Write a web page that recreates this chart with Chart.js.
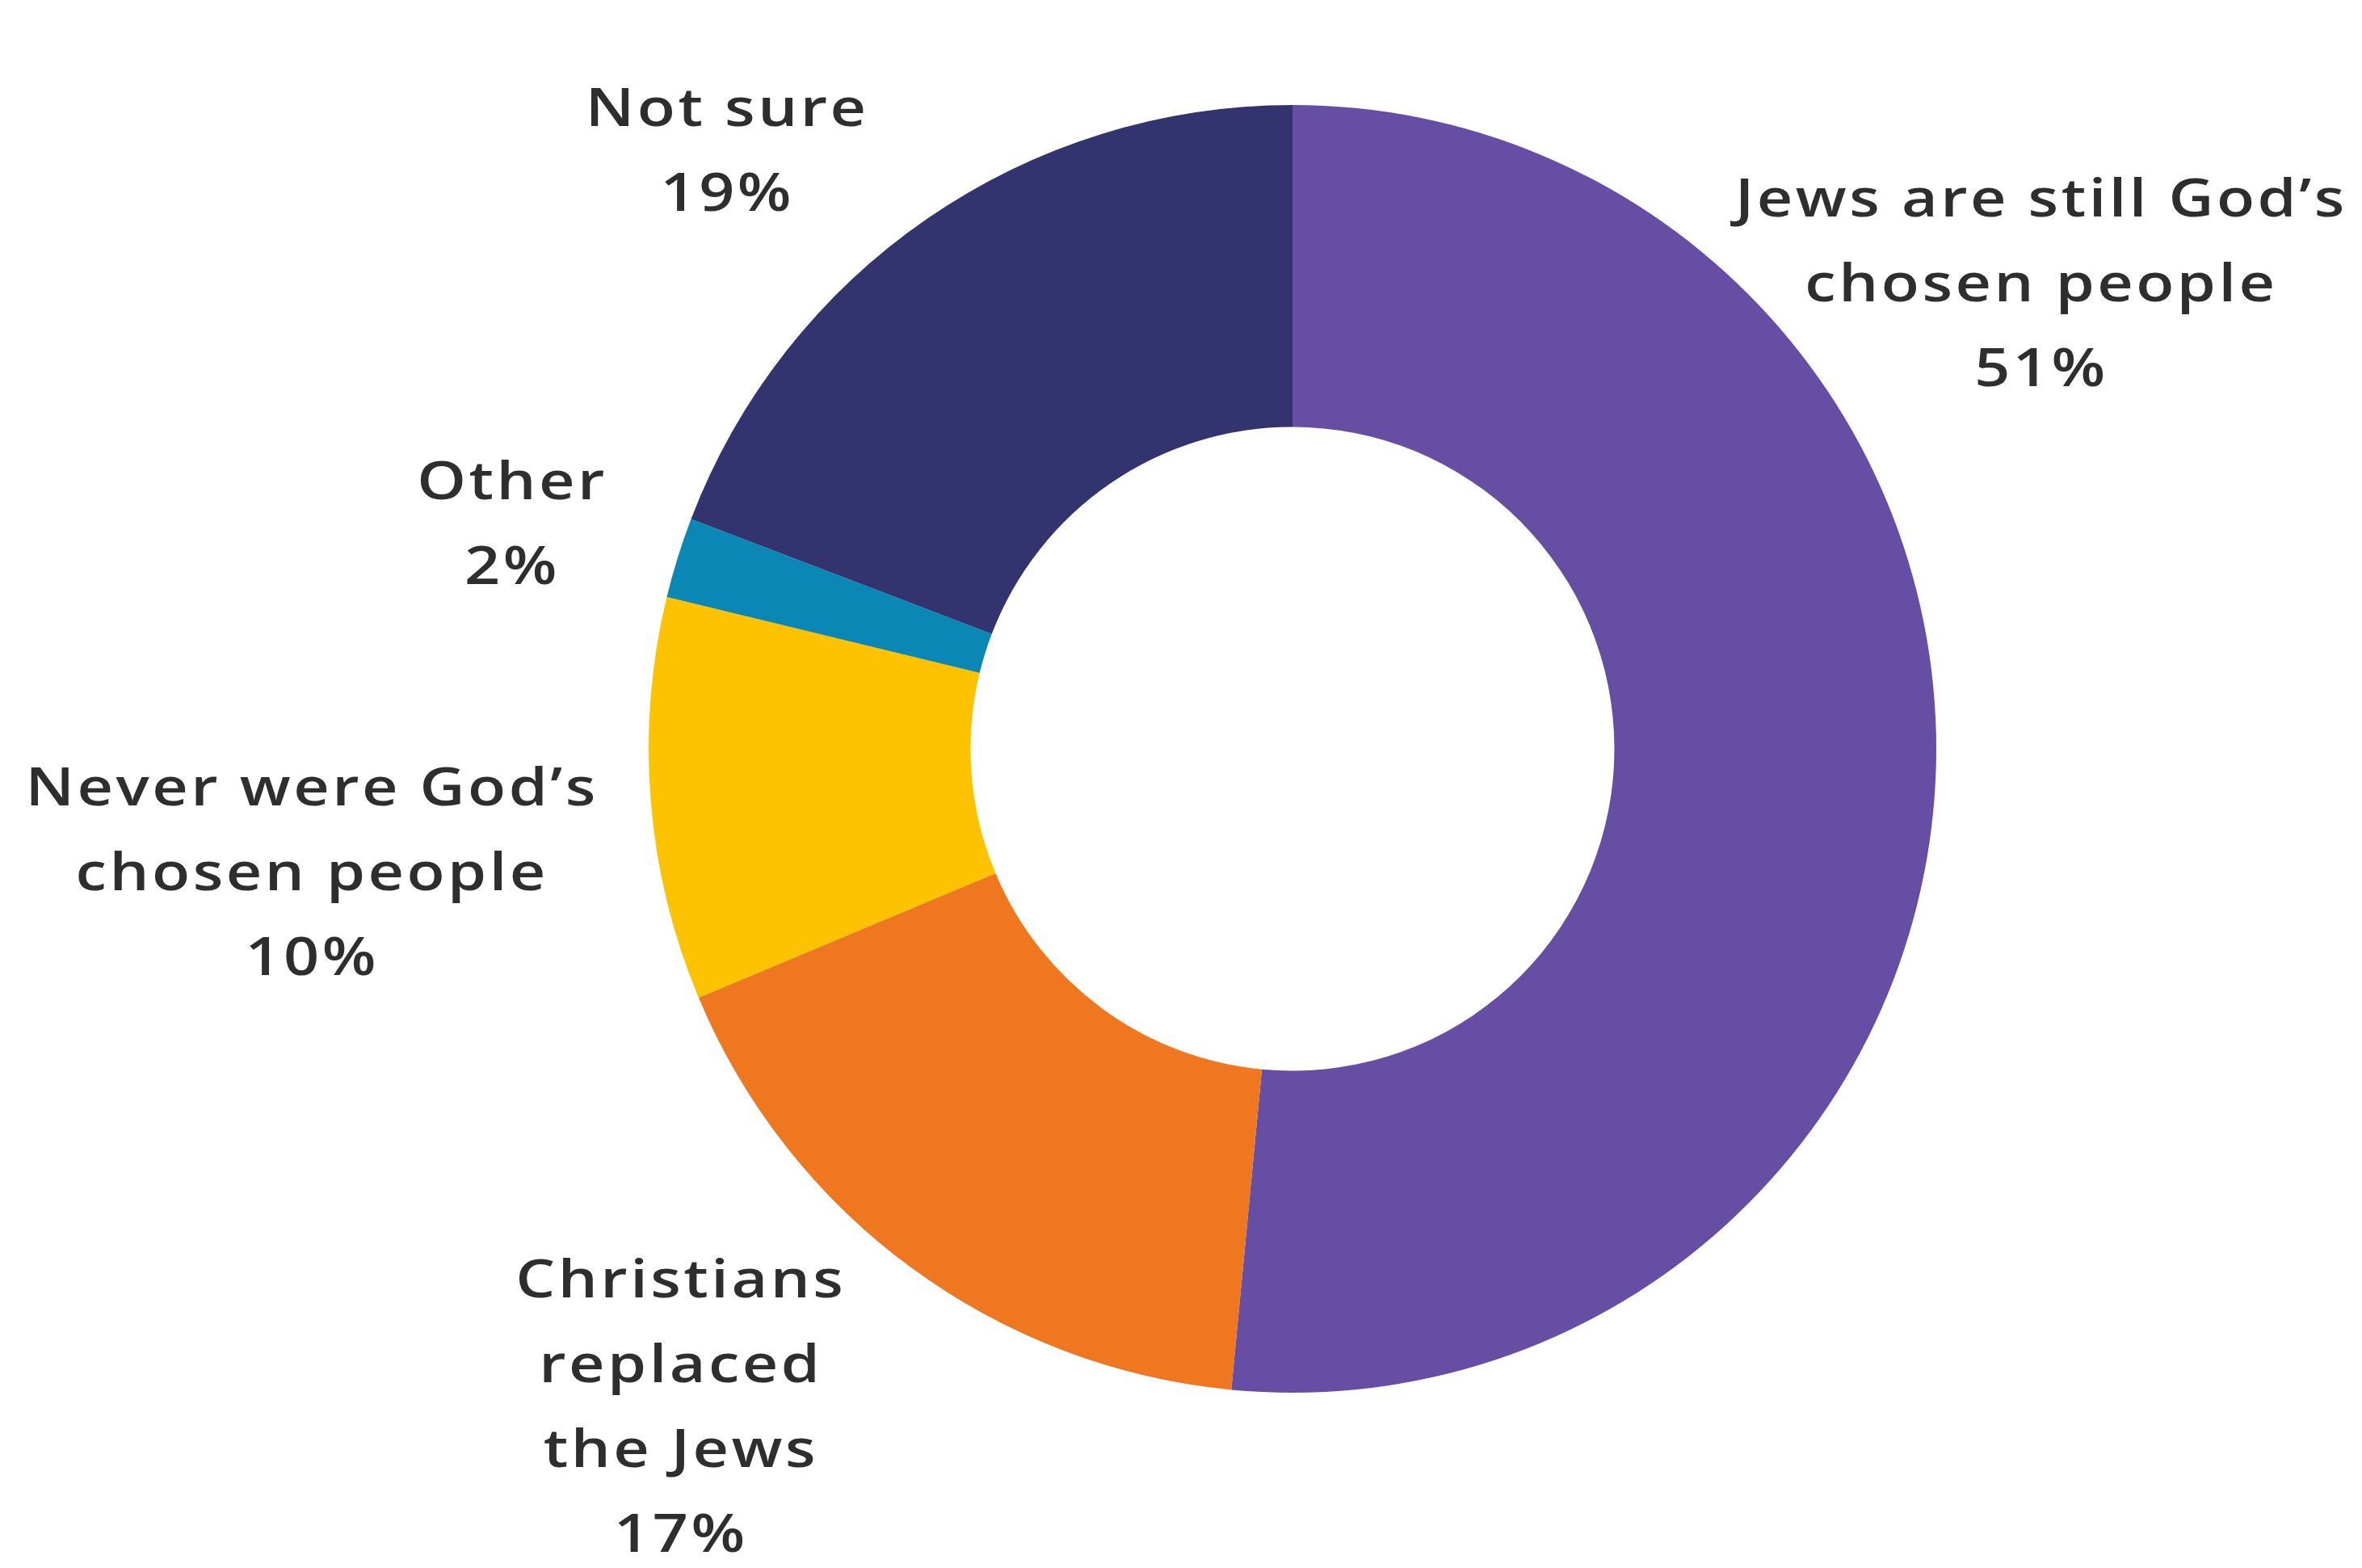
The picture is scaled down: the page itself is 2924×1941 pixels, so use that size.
<!DOCTYPE html>
<html>
<head>
<meta charset="utf-8">
<title>Are Jews still God's chosen people?</title>
<script src="https://cdn.jsdelivr.net/npm/chart.js@4/dist/chart.umd.min.js"></script>
<style>
    html, body { margin: 0; padding: 0; background: #ffffff; }
    #wrap { width: 2924px; height: 1941px; }
</style>
</head>
<body>
<div id="wrap"><canvas id="donut"></canvas></div>
<script>
// answer categories, clockwise from 12 o'clock
const categories = [
    ['Jews are still God\u2019s', 'chosen people'],
    ['Christians', 'replaced', 'the Jews'],
    ['Never were God\u2019s', 'chosen people'],
    ['Other'],
    ['Not sure']
];
const shares = [51, 17, 10, 2, 19];
const sliceColors = ['#654ea3', '#ef771f', '#fdc300', '#0b87b5', '#33336f'];

// where each label block sits, in units of the outer radius from the centre
const labelOffsets = [
    [1.163, -0.719],
    [-0.950, 1.026],
    [-1.523, 0.196],
    [-1.212, -0.345],
    [-0.878, -0.925]
];

const outsideLabels = {
    id: 'outsideLabels',
    afterDraw(chart) {
        const arc = chart.getDatasetMeta(0).data[0];
        if (!arc) return;
        const ctx = chart.ctx;
        const cx = arc.x, cy = arc.y, r = arc.outerRadius;
        const lineH = 105;
        const stretch = 1.17; // the original face is a wide one
        ctx.save();
        ctx.font = '600 66px "Open Sans"';
        ctx.letterSpacing = '3px';
        ctx.fillStyle = '#2e2e2e';
        ctx.textAlign = 'center';
        ctx.textBaseline = 'middle';
        categories.forEach((lines, i) => {
            const all = lines.concat([shares[i] + '%']);
            const x = cx + labelOffsets[i][0] * r;
            const midY = cy + labelOffsets[i][1] * r;
            const top = midY - (all.length - 1) * lineH / 2;
            all.forEach((t, j) => {
                ctx.save();
                ctx.translate(x, top + j * lineH);
                ctx.scale(stretch, 1);
                ctx.fillText(t, 0, 0);
                ctx.restore();
            });
        });
        ctx.restore();
    }
};

document.addEventListener('DOMContentLoaded', () => {
    const ctx = document.getElementById('donut').getContext('2d');
    new Chart(ctx, {
        type: 'doughnut',
        data: {
            labels: categories.map(c => c.join(' ')),
            datasets: [{
                data: shares,
                backgroundColor: sliceColors,
                borderWidth: 0
            }]
        },
        options: {
            responsive: true,
            maintainAspectRatio: false,
            animation: false,
            cutout: '50%',
            layout: { padding: { left: 803, right: 527, top: 130, bottom: 217 } },
            plugins: {
                legend: { display: false },
                tooltip: { enabled: false }
            }
        },
        plugins: [outsideLabels]
    });
});
</script>
</body>
</html>
